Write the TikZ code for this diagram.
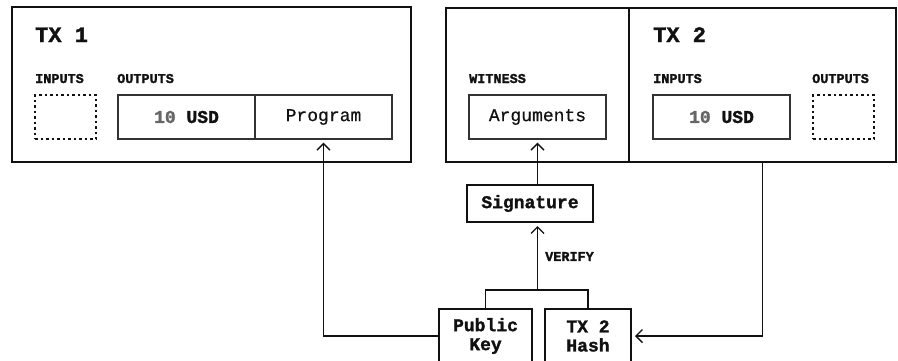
\documentclass[tikz,border=0pt]{standalone}
\usepackage{fontspec}
\setmonofont{Liberation Mono}[UprightFeatures={FakeBold=0.6}, BoldFeatures={FakeBold=1.6}]
\usetikzlibrary{arrows.meta}
\definecolor{ink}{HTML}{111111}
\definecolor{cellline}{HTML}{333333}
\definecolor{numgray}{HTML}{666666}
\newcommand{\titlefont}{\ttfamily\bfseries\fontsize{22}{24}\selectfont}
\newcommand{\tagfont}{\ttfamily\bfseries\fontsize{13.5}{15}\selectfont}
\newcommand{\cellfont}{\ttfamily\fontsize{18}{19}\selectfont}
\newcommand{\keyfont}{\ttfamily\bfseries\fontsize{18}{19}\selectfont}
\begin{document}
\begin{tikzpicture}[x=1pt, y=-1pt, >={Straight Barb[length=6.5pt, width=13pt]}]
  \tikzstyle{txbox}=[draw=ink, line width=2pt, inner sep=0pt]
  \tikzstyle{cell}=[draw=cellline, line width=1.2pt, minimum width=137pt, minimum height=44pt, inner sep=0pt, font=\cellfont, text=ink]
  \tikzstyle{slot}=[draw=ink, line width=1.4pt, dash pattern=on 2.5pt off 3pt, minimum width=61pt, minimum height=44pt]
  \tikzstyle{tag}=[anchor=base west, inner sep=0pt, font=\tagfont, text=ink]
  \tikzstyle{keybox}=[draw=ink, line width=2pt, inner sep=0pt, font=\keyfont, text=ink, align=center]
  \tikzstyle{link}=[draw=ink, line width=1.4pt, shorten >=3pt]
  \useasboundingbox (0, 0) rectangle (898, 360);

% transaction 1
\node[txbox, minimum width=399pt, minimum height=155pt] (tx1) at (211.5, 84.5) {};
\node[tag, font=\titlefont] (title1) at (35, 42) {TX 1};
\node[tag] (lin1) at (35, 83) {INPUTS};
\node[tag] (lout1) at (117, 83) {OUTPUTS};
\node[slot] (in1) at (65.5, 117) {};
\node[cell] (usd1) at (186.5, 117) {\textbf{{\color{numgray}10} USD}};
\node[cell] (prog) at (323.5, 117) {Program};

% transaction 2 with its witness
\node[txbox, minimum width=183pt, minimum height=154pt] (wit) at (537.5, 85) {};
\node[txbox, minimum width=267pt, minimum height=154pt] (tx2) at (762.5, 85) {};
\node[tag, font=\titlefont] (title2) at (653, 42) {TX 2};
\node[tag] (lwit) at (469, 83) {WITNESS};
\node[tag] (lin2) at (653, 83) {INPUTS};
\node[tag] (lout2) at (812, 83) {OUTPUTS};
\node[cell] (args) at (537.5, 117) {Arguments};
\node[cell] (usd2) at (721.5, 117) {\textbf{{\color{numgray}10} USD}};
\node[slot] (out2) at (843.5, 117) {};

% signature check
\node[keybox, minimum width=126pt, minimum height=37pt] (sig) at (530, 203.5) {Signature};
\node[keybox, minimum width=93pt, minimum height=54pt] (pk) at (485.5, 336) {Public\\Key};
\node[keybox, minimum width=86pt, minimum height=54pt] (hash) at (588, 336) {TX 2\\Hash};
\coordinate (vj) at (537.5, 290);

\draw[link, ->] (pk.west) -| (prog.south);
\draw[link, ->] (sig.north -| args.south) -- (args.south);
\draw[link, ->] (tx2.south) |- (hash.east);
\draw[link, shorten >=0pt] (pk.north) |- (vj) -| (hash.north);
\draw[link, ->] (vj) -- (sig.south -| vj) node[tag, pos=0.5, anchor=west, xshift=7pt] (verify) {VERIFY};
\end{tikzpicture}
\end{document}
